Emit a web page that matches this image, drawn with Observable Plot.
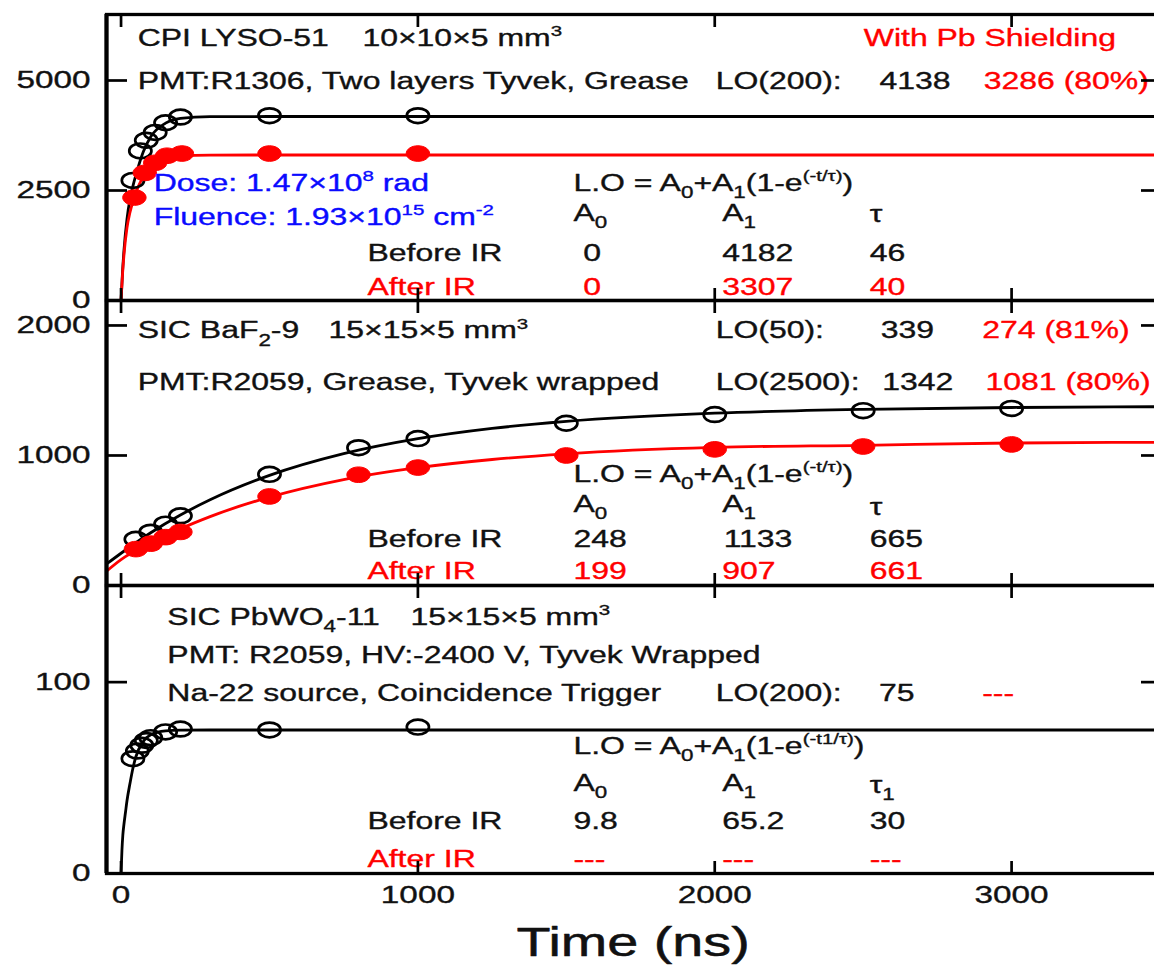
<!DOCTYPE html>
<html><head><meta charset="utf-8">
<script src="https://cdn.jsdelivr.net/npm/d3@7"></script>
<script src="https://cdn.jsdelivr.net/npm/@observablehq/plot@0.6"></script>
<style>
html,body{margin:0;padding:0;background:#fff;overflow:hidden;}
#wrap{position:relative;width:1154px;height:965px;overflow:hidden;background:#fff;}
#wrap svg{position:absolute;left:0;top:0;}
</style></head><body><div id="wrap"></div>
<script>
// ---------- data ----------
const xTicks = [0, 1000, 2000, 3000];
const xTickLabels = ["0", "1000", "2000", "3000"];
const xTitle = "Time (ns)";

// Panel 1: CPI LYSO-51
const lysoTicks = [0, 2500, 5000];
const lysoTickLabels = ["0", "2500", "5000"];
const lysoBeforeT = [40, 65, 85, 115, 150, 200, 500, 1000];
const lysoBeforeLO = [2730, 3400, 3640, 3820, 4040, 4170, 4200, 4200];
const lysoAfterT = [45, 80, 115, 155, 205, 500, 1000];
const lysoAfterLO = [2340, 2900, 3130, 3290, 3340, 3340, 3340];
const lysoFitT = [0, 5, 10, 20, 30, 40, 50, 75, 100, 150, 200, 300, 500, 3505];
const lysoBeforeFit = [0, 650, 1150, 1850, 2300, 2600, 2850, 3380, 3720, 4030, 4140, 4178, 4182, 4182];
const lysoAfterFit = [0, 600, 1050, 1650, 2000, 2250, 2450, 2820, 3050, 3240, 3290, 3305, 3307, 3307];

// Panel 2: SIC BaF2-9
const bafTicks = [0, 1000, 2000];
const bafTickLabels = ["0", "1000", "2000"];
const bafT = [50, 100, 150, 200, 500, 800, 1000, 1500, 2000, 2500, 3000];
const bafBeforeLO = [355, 410, 472, 536, 855, 1060, 1130, 1248, 1315, 1345, 1362];
const bafAfterLO = [280, 322, 372, 412, 685, 852, 907, 1000, 1047, 1069, 1085];
const bafFitT = [-49, 0, 100, 200, 300, 500, 750, 1000, 1250, 1500, 2000, 2500, 3000, 3505];
const bafBeforeFit = [165, 248, 406, 542, 659, 847, 1014, 1129, 1208, 1262, 1325, 1355, 1369, 1375];
const bafAfterFit = [110, 199, 326, 436, 530, 680, 815, 906, 969, 1013, 1062, 1078, 1096, 1101];

// Panel 3: SIC PbWO4-11
const pwoTicks = [0, 100];
const pwoTickLabels = ["0", "100"];
const pwoT = [40, 55, 70, 85, 100, 150, 200, 500, 1000];
const pwoBeforeLO = [60, 64, 67, 69.5, 71, 74, 75.5, 75, 76.5];
const pwoFitT = [0, 3, 6, 10, 15, 20, 30, 40, 50, 75, 100, 150, 200, 300, 3505];
const pwoBeforeFit = [0, 12, 20, 26, 32, 38, 47, 55, 61, 69, 72.5, 74.5, 74.9, 75, 75];

// ---------- styling ----------
const FONT = "'Liberation Sans', Arial, Helvetica, sans-serif";
const RED = "#ff0000", BLUE = "#0a0aff", INK = "#111111";
const W = 1162, H = 965, ML = 106, MR = 1;
const xDomain = [-49, 3505];
const plotW = W - ML - MR;

const ellipse = {
  draw(ctx, size) {
    const r = Math.sqrt(size / Math.PI), rx = r * 1.5, ry = r, k = 0.5522848;
    ctx.moveTo(rx, 0);
    ctx.bezierCurveTo(rx, ry * k, rx * k, ry, 0, ry);
    ctx.bezierCurveTo(-rx * k, ry, -rx, ry * k, -rx, 0);
    ctx.bezierCurveTo(-rx, -ry * k, -rx * k, -ry, 0, -ry);
    ctx.bezierCurveTo(rx * k, -ry, rx, -ry * k, rx, 0);
    ctx.closePath();
  }
};

function note(x, y, text, color = INK) {
  return Plot.text([text], {x, y, text: d => d, textAnchor: "start", lineAnchor: "bottom",
    fontSize: 23.5, fill: color, stroke: color, strokeWidth: 0.35, ariaLabel: "note"});
}
function fitLine(T, V, color) {
  return Plot.line(d3.range(T.length), {x: i => T[i], y: i => V[i], stroke: color, strokeWidth: 2.8, curve: "monotone-x"});
}
function openDots(T, V) {
  return Plot.dot(d3.range(T.length), {x: i => T[i], y: i => V[i], symbol: ellipse, r: 7.4, fill: "none", stroke: "black", strokeWidth: 2.7});
}
function fullDots(T, V) {
  return Plot.dot(d3.range(T.length), {x: i => T[i], y: i => V[i], symbol: ellipse, r: 7.8, fill: RED, stroke: RED, strokeWidth: 1});
}

function panel({top, bottom, yDomain, yTicks, yTickLabels, marks, extra = []}) {
  const ph = bottom - top;
  return Plot.plot({
    width: W, height: H,
    marginLeft: ML, marginRight: MR, marginTop: top, marginBottom: H - bottom,
    x: {domain: xDomain, axis: null},
    y: {domain: yDomain, axis: null},
    style: `background:transparent;max-width:none;overflow:visible;font-family:${FONT};`,
    marks: [
      ...marks,
      Plot.ruleX(xTicks, {stroke: "black", strokeWidth: 2.7, insetBottom: ph - 13}),
      Plot.ruleX(xTicks, {stroke: "black", strokeWidth: 2.7, insetTop: ph - 12}),
      Plot.ruleY(yTicks, {stroke: "black", strokeWidth: 2.7, insetRight: plotW - 21}),
      Plot.ruleY(yTicks, {stroke: "black", strokeWidth: 2.7, insetLeft: plotW - 20}),
      Plot.frame({stroke: "black", strokeWidth: 3.3}),
      Plot.ruleX([xDomain[0]], {stroke: "black", strokeWidth: 4.2}),
      Plot.text(yTicks, {y: d => d, text: (d, i) => yTickLabels[i], frameAnchor: "left", dx: -16,
        textAnchor: "end", fontSize: 24.5, fill: INK, stroke: INK, strokeWidth: 0.35, ariaLabel: "ticklabel"}),
      ...extra
    ]
  });
}

const colLabel = 830, colA0 = 1524, colA1 = 2025, colTau = 2522;

const p1 = panel({
  top: 14, bottom: 300, yDomain: [0, 6500], yTicks: lysoTicks, yTickLabels: lysoTickLabels,
  marks: [
    fitLine(lysoFitT, lysoBeforeFit, "black"),
    fitLine(lysoFitT, lysoAfterFit, RED),
    openDots(lysoBeforeT, lysoBeforeLO),
    fullDots(lysoAfterT, lysoAfterLO),
    note(56, 5795, "CPI LYSO-51"),
    note(813, 5795, "10×10×5 mm^{3}"),
    note(2502, 5795, "With Pb Shielding", RED),
    note(56, 4811, "PMT:R1306, Two layers Tyvek, Grease"),
    note(2003, 4811, "LO(200):"),
    note(2555, 4811, "4138"),
    note(2906, 4811, "3286 (80%)", RED),
    note(110, 2484, "Dose: 1.47×10^{8} rad", BLUE),
    note(110, 1727, "Fluence: 1.93×10^{15} cm^{-2}", BLUE),
    note(colA0, 2484, "L.O = A_{0}+A_{1}(1-e^{(-t/τ)})"),
    note(colA0, 1818, "A_{0}"), note(colA1, 1818, "A_{1}"), note(colTau, 1790, "τ"),
    note(colLabel, 909, "Before IR"), note(1557, 909, "0"), note(colA1, 909, "4182"), note(colTau, 909, "46"),
    note(colLabel, 114, "After IR", RED), note(1557, 114, "0", RED), note(colA1, 114, "3307", RED), note(colTau, 114, "40", RED)
  ]
});

const p2 = panel({
  top: 300, bottom: 585, yDomain: [0, 2192], yTicks: bafTicks, yTickLabels: bafTickLabels,
  marks: [
    fitLine(bafFitT, bafBeforeFit, "black"),
    fitLine(bafFitT, bafAfterFit, RED),
    openDots(bafT, bafBeforeLO),
    fullDots(bafT, bafAfterLO),
    note(56, 1900, "SIC BaF_{2}-9"),
    note(699, 1900, "15×15×5 mm^{3}"),
    note(2003, 1900, "LO(50):"),
    note(2559, 1900, "339"),
    note(2901, 1900, "274 (81%)", RED),
    note(56, 1500, "PMT:R2059, Grease, Tyvek wrapped"),
    note(2003, 1500, "LO(2500):"),
    note(2564, 1500, "1342"),
    note(2912, 1500, "1081 (80%)", RED),
    note(colA0, 795, "L.O = A_{0}+A_{1}(1-e^{(-t/τ)})"),
    note(colA0, 564, "A_{0}"), note(colA1, 564, "A_{1}"), note(colTau, 545, "τ"),
    note(colLabel, 295, "Before IR"), note(colA0, 295, "248"), note(2030, 295, "1133"), note(colTau, 295, "665"),
    note(colLabel, 52, "After IR", RED), note(colA0, 52, "199", RED), note(colA1, 52, "907", RED), note(colTau, 52, "661", RED)
  ]
});

const p3 = panel({
  top: 585, bottom: 873, yDomain: [0, 150.5], yTicks: pwoTicks, yTickLabels: pwoTickLabels,
  marks: [
    fitLine(pwoFitT, pwoBeforeFit, "black"),
    openDots(pwoT, pwoBeforeLO),
    note(156, 130, "SIC PbWO_{4}-11"),
    note(975, 130, "15×15×5 mm^{3}"),
    note(156, 110, "PMT: R2059, HV:-2400 V, Tyvek Wrapped"),
    note(156, 90, "Na-22 source, Coincidence Trigger"),
    note(2003, 90, "LO(200):"),
    note(2553, 90, "75"),
    note(2901, 90, "---", RED),
    note(colA0, 62.5, "L.O = A_{0}+A_{1}(1-e^{(-t1/τ)})"),
    note(colA0, 43, "A_{0}"), note(colA1, 43, "A_{1}"), note(colTau, 42, "τ_{1}"),
    note(colLabel, 23.5, "Before IR"), note(colA0, 23.5, "9.8"), note(colA1, 23.5, "65.2"), note(colTau, 23.5, "30"),
    note(colLabel, 3.5, "After IR", RED), note(colA0, 3.5, "---", RED), note(colA1, 3.5, "---", RED), note(colTau, 3.5, "---", RED)
  ],
  extra: [
    Plot.text(xTicks, {x: d => d, text: (d, i) => xTickLabels[i], frameAnchor: "bottom", dy: 29,
      lineAnchor: "bottom", textAnchor: "middle", fontSize: 24.5, fill: INK, stroke: INK, strokeWidth: 0.35, ariaLabel: "ticklabel"}),
    Plot.text([xTitle], {x: 1725, text: d => d, frameAnchor: "bottom", dy: 82, lineAnchor: "bottom",
      textAnchor: "middle", fontSize: 41, fill: INK, stroke: INK, strokeWidth: 0.5, ariaLabel: "title"})
  ]
});

const wrap = document.getElementById("wrap");
const SVGNS = "http://www.w3.org/2000/svg";
function rich(el, fs) {
  const s = el.textContent;
  if (!/[\^_]\{/.test(s)) return;
  const re = /([\^_])\{([^}]*)\}/g;
  const parts = [];
  let last = 0, m;
  while ((m = re.exec(s))) {
    if (m.index > last) parts.push({t: s.slice(last, m.index), k: 0});
    parts.push({t: m[2], k: m[1] === "^" ? -1 : 1});
    last = re.lastIndex;
  }
  if (last < s.length) parts.push({t: s.slice(last), k: 0});
  el.textContent = "";
  let shift = 0;
  for (const p of parts) {
    const ts = document.createElementNS(SVGNS, "tspan");
    const target = p.k === 0 ? 0 : p.k < 0 ? -0.42 * fs : 0.3 * fs;
    ts.setAttribute("dy", (target - shift).toFixed(2));
    shift = target;
    if (p.k) ts.setAttribute("font-size", (fs * (p.k < 0 ? 0.64 : 0.7)).toFixed(2));
    ts.textContent = p.t;
    el.appendChild(ts);
  }
}
for (const svg of [p1, p2, p3]) {
  wrap.appendChild(svg);
  svg.querySelectorAll("text").forEach(el => {
    const g = el.closest("g");
    const lab = g ? g.getAttribute("aria-label") : "";
    const fs = parseFloat((g && g.getAttribute("font-size")) || 23.5);
    rich(el, fs);
    const s = lab === "ticklabel" ? 1.45 : lab === "title" ? 1.47 : 1.36;
    const x = parseFloat(el.getAttribute("x") || 0);
    el.setAttribute("transform", (el.getAttribute("transform") || "") + ` translate(${x},0) scale(${s},1) translate(${-x},0)`);
  });
}
</script></body></html>
